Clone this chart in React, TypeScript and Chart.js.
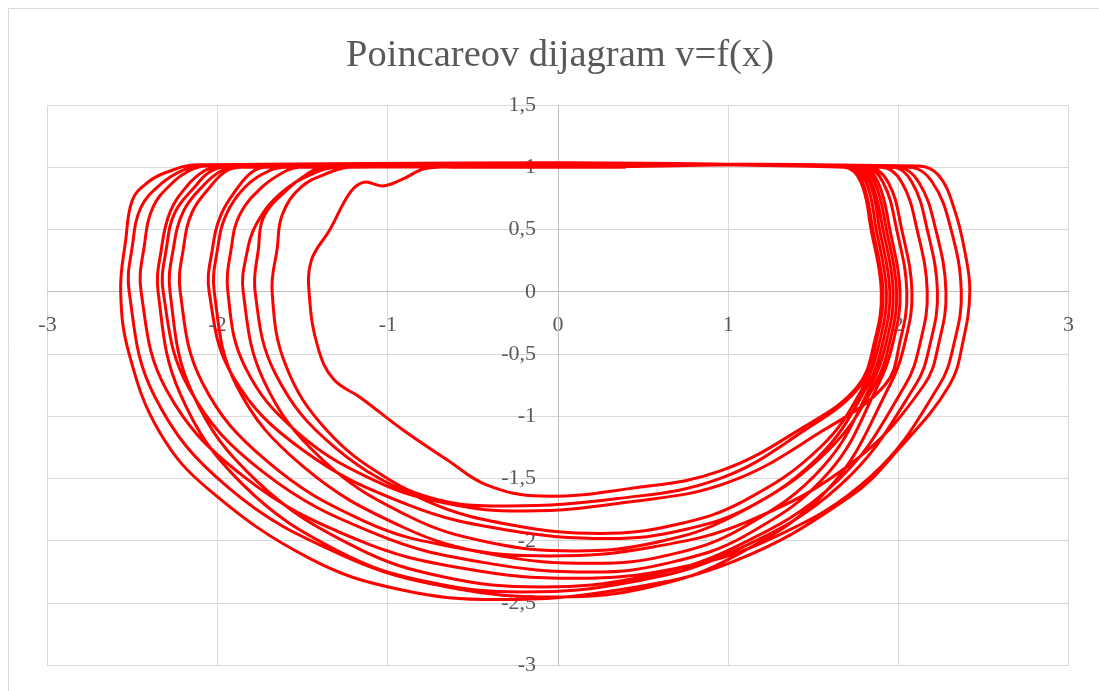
import React, { useEffect, useRef } from 'react';
import { Chart, registerables } from 'chart.js';

Chart.register(...registerables);

const TITLE = 'Poincareov dijagram v=f(x)';
const X_MIN = -3;
const X_MAX = 3;
const X_STEP = 1;
const Y_MIN = -3;
const Y_MAX = 1.5;
const Y_STEP = 0.5;

type P = [number, number];

const start: P[] = [[0, 1]];
const loop1: P[] = [[1.68,1],[1.78,0.88],[1.84,0.5],[1.90,0],[1.86,-0.4],[1.76,-0.76],[1.45,-1.08],[0.95,-1.44],[0.42,-1.58],[-0.10,-1.64],[-0.42,-1.55],[-0.65,-1.35],[-0.90,-1.12],[-1.16,-0.85],[-1.32,-0.70],[-1.41,-0.45],[-1.46,-0.05],[-1.45,0.25],[-1.34,0.5],[-1.22,0.8],[-1.14,0.88],[-1.03,0.85],[-0.92,0.9],[-0.78,0.99],[-0.6,1.0]];
const loop2: P[] = [[1.70,1],[1.79,0.88],[1.85,0.5],[1.91,0],[1.87,-0.4],[1.78,-0.75],[1.44,-1.12],[0.95,-1.50],[0.35,-1.66],[-0.30,-1.72],[-0.70,-1.67],[-1.00,-1.50],[-1.36,-1.11],[-1.60,-0.59],[-1.68,0],[-1.65,0.35],[-1.62,0.62],[-1.51,0.84],[-1.34,0.96],[-1.22,1.0]];
const loop3: P[] = [[1.71,1],[1.81,0.88],[1.87,0.5],[1.93,0],[1.89,-0.4],[1.80,-0.75],[1.54,-1.25],[1.09,-1.68],[0.69,-1.87],[0.25,-1.94],[-0.28,-1.87],[-0.77,-1.68],[-1.31,-1.25],[-1.66,-0.66],[-1.78,0],[-1.76,0.35],[-1.73,0.6],[-1.60,0.81],[-1.47,0.95],[-1.38,1.0]];
const loop4: P[] = [[1.73,1],[1.83,0.88],[1.89,0.5],[1.95,0],[1.91,-0.4],[1.82,-0.75],[1.52,-1.34],[1.03,-1.80],[0.58,-2.01],[0.10,-2.08],[-0.41,-2.01],[-0.88,-1.80],[-1.39,-1.34],[-1.73,-0.71],[-1.85,0],[-1.83,0.3],[-1.77,0.55],[-1.63,0.79],[-1.44,0.95],[-1.28,1.0]];
const loop5: P[] = [[1.80,1],[1.91,0.88],[1.99,0.5],[2.05,0],[2.01,-0.4],[1.92,-0.75],[1.55,-1.12],[1.00,-1.53],[0.40,-1.69],[-0.20,-1.76],[-0.65,-1.70],[-1.07,-1.52],[-1.53,-1.13],[-1.84,-0.60],[-1.94,0],[-1.92,0.35],[-1.87,0.62],[-1.74,0.84],[-1.60,0.97],[-1.52,1.0]];
const loop6: P[] = [[1.74,1],[1.84,0.88],[1.91,0.5],[1.97,0],[1.93,-0.4],[1.84,-0.75],[1.56,-1.40],[1.09,-1.89],[0.66,-2.11],[0.20,-2.18],[-0.38,-2.11],[-0.91,-1.89],[-1.50,-1.40],[-1.89,-0.75],[-2.02,0],[-2.00,0.35],[-1.95,0.62],[-1.84,0.84],[-1.70,0.97],[-1.60,1.0]];
const loop7: P[] = [[1.90,1],[2.02,0.88],[2.11,0.5],[2.17,0],[2.13,-0.4],[2.04,-0.75],[1.64,-1.52],[1.04,-2.05],[0.49,-2.29],[-0.10,-2.37],[-0.67,-2.29],[-1.19,-2.05],[-1.77,-1.52],[-2.15,-0.81],[-2.28,0],[-2.26,0.35],[-2.20,0.65],[-2.08,0.86],[-1.98,0.97],[-1.90,1.0]];
const loop8: P[] = [[1.76,1],[1.86,0.88],[1.93,0.5],[1.99,0],[1.95,-0.4],[1.86,-0.75],[1.59,-1.27],[1.15,-1.71],[0.74,-1.91],[0.30,-1.98],[-0.31,-1.91],[-0.88,-1.71],[-1.50,-1.27],[-1.91,-0.68],[-2.05,0],[-2.03,0.35],[-1.98,0.62],[-1.88,0.84],[-1.80,0.96],[-1.72,1.0]];
const loop9: P[] = [[1.96,1],[2.08,0.88],[2.17,0.5],[2.23,0],[2.19,-0.4],[2.10,-0.75],[1.66,-1.55],[1.02,-2.09],[0.43,-2.33],[-0.20,-2.41],[-0.76,-2.33],[-1.28,-2.09],[-1.85,-1.55],[-2.22,-0.82],[-2.35,0],[-2.33,0.35],[-2.28,0.64],[-2.18,0.85],[-2.08,0.97],[-2.00,1.0]];
const loop10: P[] = [[2.06,1],[2.20,0.88],[2.31,0.5],[2.37,0],[2.33,-0.4],[2.24,-0.75],[1.84,-1.48],[1.24,-1.99],[0.69,-2.22],[0.10,-2.30],[-0.56,-2.22],[-1.18,-1.99],[-1.85,-1.48],[-2.30,-0.79],[-2.45,0],[-2.43,0.38],[-2.38,0.68],[-2.27,0.87],[-2.17,0.97],[-2.07,1.01]];
const loop11: P[] = [[2.12,1.01],[2.24,0.93],[2.33,0.66],[2.39,0.33],[2.42,0],[2.38,-0.4],[2.30,-0.75],[2.01,-1.25],[1.71,-1.65],[1.04,-2.16],[0.37,-2.39],[-0.35,-2.47],[-0.93,-2.39],[-1.46,-2.14],[-2.05,-1.59],[-2.34,-1.13],[-2.52,-0.5],[-2.57,0],[-2.54,0.42],[-2.50,0.74],[-2.41,0.88],[-2.30,0.96],[-2.12,1.02]];
const loop12: P[] = [[1.82,1],[1.94,0.88],[2.02,0.5],[2.08,0],[2.04,-0.4],[1.95,-0.75],[1.59,-1.58],[1.04,-2.12],[0.54,-2.37],[0,-2.45],[-0.65,-2.37],[-1.26,-2.12],[-1.93,-1.58],[-2.37,-0.84],[-2.52,0],[-2.50,0.38],[-2.45,0.68],[-2.33,0.87],[-2.20,0.98],[-2.10,1.01]];
const loop13: P[] = [[1.78,1],[1.88,0.88],[1.95,0.5],[2.01,0],[1.97,-0.4],[1.88,-0.75],[1.59,-1.45],[1.11,-1.95],[0.67,-2.17],[0.20,-2.25],[-0.45,-2.17],[-1.06,-1.95],[-1.73,-1.45],[-2.17,-0.77],[-2.32,0],[-2.30,0.36],[-2.25,0.64],[-2.13,0.85],[-2.05,0.96],[-1.96,1.0]];
const loop14: P[] = [[1.99,1],[2.12,0.88],[2.22,0.5],[2.28,0],[2.24,-0.4],[2.15,-0.75],[1.74,-1.36],[1.12,-1.84],[0.55,-2.05],[-0.05,-2.12],[-0.61,-2.05],[-1.14,-1.84],[-1.71,-1.36],[-2.09,-0.73],[-2.22,0],[-2.20,0.36],[-2.15,0.64],[-2.04,0.85],[-1.95,0.97],[-1.86,1.0]];
const finish: P[] = [[0.4, 1]];

const trajectory: P[] = [
  ...start, ...loop1, ...loop2, ...loop3, ...loop4, ...loop5, ...loop6, ...loop7,
  ...loop8, ...loop9, ...loop10, ...loop11, ...loop12, ...loop13, ...loop14, ...finish,
];

const TEXT_COLOR = '#595959';
const GRID_COLOR = '#d9d9d9';
const AXIS_COLOR = '#bfbfbf';
const LINE_COLOR = '#ff0000';
const FONT = "'Liberation Serif', serif";

const fmt = (v: number | string) => String(Number(v)).replace('.', ',');

const framePlugin = {
  id: 'frameAndTitle',
  beforeDraw(chart: any) {
    const ctx = chart.ctx;
    ctx.save();
    ctx.fillStyle = '#ffffff';
    ctx.fillRect(0, 0, chart.width, chart.height);
    ctx.strokeStyle = GRID_COLOR;
    ctx.lineWidth = 1;
    ctx.beginPath();
    ctx.moveTo(8.5, chart.height);
    ctx.lineTo(8.5, 8.5);
    ctx.lineTo(chart.width, 8.5);
    ctx.stroke();
    ctx.fillStyle = TEXT_COLOR;
    ctx.font = `38.5px ${FONT}`;
    ctx.textAlign = 'center';
    ctx.textBaseline = 'middle';
    ctx.fillText(TITLE, 560, 56);
    ctx.restore();
  },
};

export default function App() {
  const ref = useRef<HTMLCanvasElement | null>(null);
  useEffect(() => {
    document.body.style.margin = '0';
    const canvas = ref.current;
    if (!canvas) return;
    const chart = new Chart(canvas, {
      type: 'scatter',
      data: {
        datasets: [
          {
            label: 'v=f(x)',
            data: trajectory.map(([x, y]) => ({ x, y })),
            showLine: true,
            borderColor: LINE_COLOR,
            backgroundColor: LINE_COLOR,
            borderWidth: 3,
            pointRadius: 0,
            pointHoverRadius: 0,
            tension: 0.4,
            fill: false,
          },
        ],
      },
      options: {
        animation: false,
        responsive: false,
        maintainAspectRatio: false,
        layout: { padding: { left: 47.5, right: 30.5, top: 105, bottom: 25.5 } },
        plugins: {
          legend: { display: false },
          title: { display: false },
          tooltip: { enabled: false },
        },
        scales: {
          x: {
            type: 'linear',
            min: X_MIN,
            max: X_MAX,
            position: { y: 0 } as any,
            grid: { color: GRID_COLOR, lineWidth: 1, drawTicks: false },
            border: { color: AXIS_COLOR, width: 1 },
            ticks: {
              stepSize: X_STEP,
              padding: 20,
              color: TEXT_COLOR,
              font: { family: FONT, size: 22 },
              callback: (v: any) => fmt(v),
              maxRotation: 0,
            },
          },
          y: {
            type: 'linear',
            min: Y_MIN,
            max: Y_MAX,
            position: { x: 0 } as any,
            grid: { color: GRID_COLOR, lineWidth: 1, drawTicks: false },
            border: { color: AXIS_COLOR, width: 1 },
            ticks: {
              stepSize: Y_STEP,
              padding: 0,
              color: TEXT_COLOR,
              font: { family: FONT, size: 22 },
              callback: (v: any) => fmt(v) + '    ',
            },
          },
        },
      },
      plugins: [framePlugin],
    });
    return () => chart.destroy();
  }, []);
  return (
    <div style={{ position: 'absolute', left: 0, top: 0, width: 1099, height: 691 }}>
      <canvas ref={ref} width={1099} height={691} style={{ display: 'block', width: 1099, height: 691 }} />
    </div>
  );
}
